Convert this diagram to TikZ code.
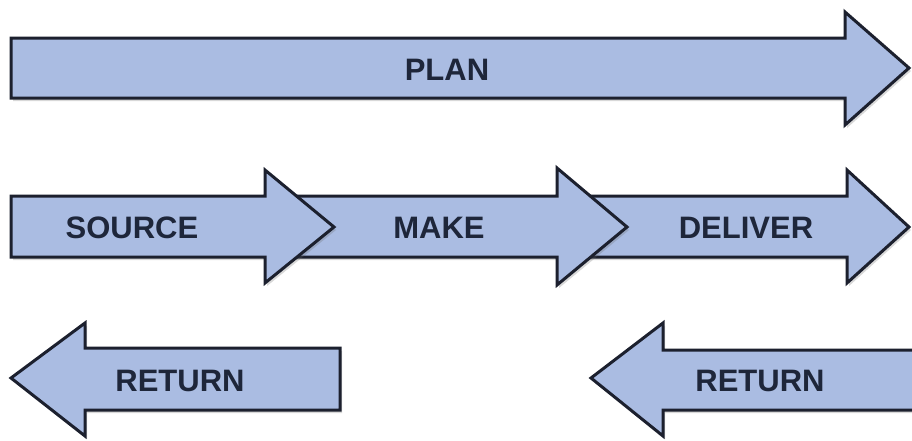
\documentclass[tikz,border=0pt]{standalone}
\usepackage{fontspec}
\setmainfont{Liberation Sans}
\usetikzlibrary{shadows}
\definecolor{arrowfill}{RGB}{170,188,226}
\definecolor{arrowline}{RGB}{28,32,46}
\definecolor{labeltext}{RGB}{30,38,58}
\tikzset{
  arrowshape/.style={fill=arrowfill, draw=arrowline, line width=3pt, line join=miter,
    drop shadow={shadow xshift=2pt, shadow yshift=-3pt, opacity=0.25, fill=black!60}},
  arrowlabel/.style={text=labeltext, font=\fontsize{31}{34}\selectfont\bfseries, inner sep=0pt}
}
\begin{document}
\begin{tikzpicture}[x=1pt, y=-1pt]
\useasboundingbox (0,0) rectangle (912,440);
\clip (0,0) rectangle (912,440);
\fill[white] (0,0) rectangle (912,440);
% PLAN
\path[arrowshape] (11,38) -- (845,38) -- (845,12) -- (909,68) -- (845,125) -- (845,98) -- (11,98) -- cycle;
\node[arrowlabel] (plan) at (447,70) {PLAN};
% DELIVER (drawn first, lies under MAKE)
\path[arrowshape] (580,196) -- (847,196) -- (847,170) -- (909,227) -- (847,283) -- (847,257) -- (580,257) -- cycle;
% MAKE (under SOURCE)
\path[arrowshape] (290,196) -- (557,196) -- (557,168) -- (627,227) -- (557,285) -- (557,257) -- (290,257) -- cycle;
% SOURCE
\path[arrowshape] (11,196) -- (265,196) -- (265,170) -- (334,227) -- (265,283) -- (265,257) -- (11,257) -- cycle;
\node[arrowlabel] (source) at (132,228) {SOURCE};
\node[arrowlabel] (make) at (439,228) {MAKE};
\node[arrowlabel] (deliver) at (746,228) {DELIVER};
% RETURN left
\path[arrowshape] (11,378) -- (85,323) -- (85,348) -- (340,348) -- (340,410) -- (85,410) -- (85,436) -- cycle;
\node[arrowlabel] (returnleft) at (180,381) {RETURN};
% RETURN right
\path[arrowshape] (591,378) -- (663,323) -- (663,350) -- (925,350) -- (925,410) -- (663,410) -- (663,436) -- cycle;
\node[arrowlabel] (returnright) at (760,381) {RETURN};
\end{tikzpicture}
\end{document}
